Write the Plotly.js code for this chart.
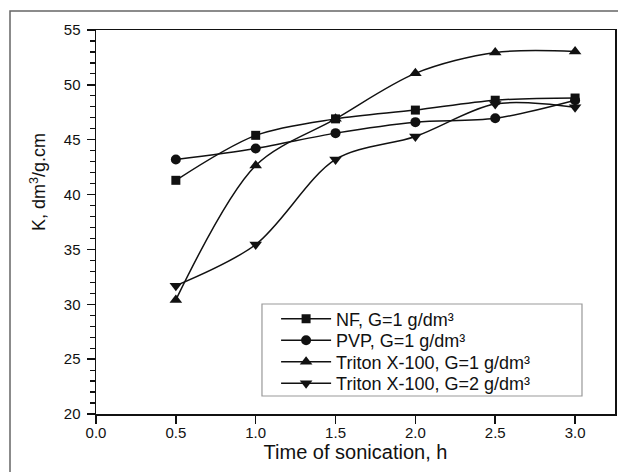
<!DOCTYPE html>
<html>
<head>
<meta charset="utf-8">
<script src="https://cdn.plot.ly/plotly-3.0.1.min.js"></script>
<style>
  html, body { margin: 0; padding: 0; background: #fff; }
  #chart { width: 618px; height: 472px; }
</style>
</head>
<body>
<div id="chart"></div>
<script>
const time = [0.5, 1.0, 1.5, 2.0, 2.5, 3.0];
const nf = [41.3, 45.4, 46.9, 47.7, 48.6, 48.8];
const pvp = [43.2, 44.2, 45.6, 46.6, 46.95, 48.6];
const tritonG1 = [30.4, 42.65, 46.9, 51.05, 52.95, 53.05];
const tritonG2 = [31.7, 35.45, 43.2, 45.3, 48.25, 47.95];

const names = [
  'NF, G=1 g/dm³',
  'PVP, G=1 g/dm³',
  'Triton X-100, G=1 g/dm³',
  'Triton X-100, G=2 g/dm³'
];
const seriesValues = [nf, pvp, tritonG1, tritonG2];
const symbols = ['square', 'circle', 'triangle-up', 'triangle-down'];
const sizes = [9, 10, 11, 11];
const legendIds = ['legend', 'legend2', 'legend3', 'legend4'];
const legendTops = [0.2956, 0.2396, 0.1836, 0.1276];

const FONT = 'Liberation Sans, Arial, Helvetica, sans-serif';
const INK = '#111';

const traces = seriesValues.map((vals, i) => ({
  x: time,
  y: vals,
  name: names[i],
  legend: legendIds[i],
  type: 'scatter',
  mode: 'lines+markers',
  line: { color: INK, width: 1.5, shape: 'spline', smoothing: 0.9 },
  marker: { symbol: symbols[i], size: sizes[i], color: INK }
}));

const layout = {
  width: 618,
  height: 472,
  margin: { l: 96, r: 3, t: 30, b: 58 },
  paper_bgcolor: '#fff',
  plot_bgcolor: '#fff',
  font: { family: FONT, color: INK },
  showlegend: true,
  xaxis: {
    range: [0, 3.25],
    tick0: 0, dtick: 0.5, tickformat: '.1f',
    ticks: 'outside', ticklen: 8, tickwidth: 1.5, tickcolor: INK,
    showline: true, linecolor: INK, linewidth: 1.5, mirror: true,
    showgrid: false, zeroline: false,
    ticklabelstandoff: -4,
    tickfont: { family: FONT, size: 15, color: INK },
    title: { text: 'Time of sonication, h', font: { family: FONT, size: 20, color: INK }, standoff: 1 }
  },
  yaxis: {
    range: [20, 55],
    tick0: 20, dtick: 5,
    ticks: 'outside', ticklen: 8, tickwidth: 1.5, tickcolor: INK,
    minor: { dtick: 1, ticks: 'outside', ticklen: 5, tickwidth: 1.2, tickcolor: INK, showgrid: false },
    showline: true, linecolor: INK, linewidth: 1.5, mirror: true,
    showgrid: false, zeroline: false,
    ticklabelstandoff: 3,
    tickfont: { family: FONT, size: 15, color: INK }
  },
  annotations: [
    { text: 'K, dm<sup>3</sup>/g.cm', xref: 'paper', yref: 'paper',
      x: -0.1118, y: 0.604, xanchor: 'center', yanchor: 'middle',
      textangle: -90, showarrow: false,
      font: { family: FONT, size: 18, color: INK } }
  ],
  shapes: [
    { type: 'rect', xref: 'paper', yref: 'paper',
      x0: -0.1657, x1: 2, y0: -1, y1: 1.0495,
      line: { color: '#666', width: 1.5 }, fillcolor: 'rgba(0,0,0,0)', layer: 'below' },
    { type: 'rect', xref: 'paper', yref: 'paper',
      x0: 0.3198, x1: 0.9364, y0: 0.0469, y1: 0.2865,
      line: { color: '#999', width: 1.2 }, fillcolor: 'rgba(0,0,0,0)', layer: 'above' }
  ]
};

legendIds.forEach((id, i) => {
  layout[id] = {
    x: 0.347, y: legendTops[i], xanchor: 'left', yanchor: 'top',
    bgcolor: 'rgba(0,0,0,0)', borderwidth: 0,
    font: { family: FONT, size: 18, color: INK },
    itemwidth: 50
  };
});

Plotly.newPlot('chart', traces, layout, { displayModeBar: false, staticPlot: true });
</script>
</body>
</html>
